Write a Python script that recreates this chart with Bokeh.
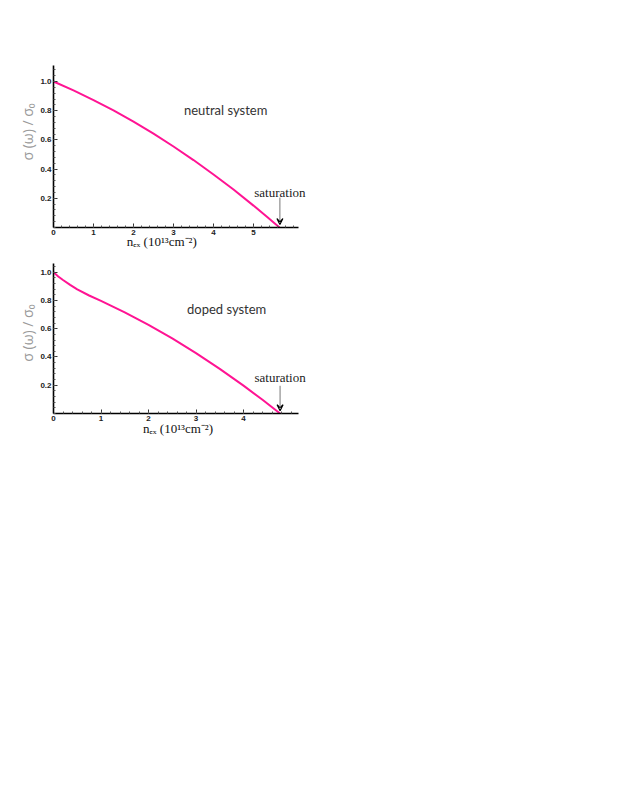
from bokeh.plotting import figure
from bokeh.layouts import column
from bokeh.models import FixedTicker, Label, Arrow, VeeHead, ColumnDataSource
from bokeh.embed import file_html
from bokeh.resources import INLINE

# ---- data ----
neutral_n = [0, 0.5, 1.0, 1.5, 2.0, 2.5, 3.0, 3.5, 4.0, 4.5, 5.0, 5.35, 5.65]
neutral_s = [1.0, 0.939, 0.873, 0.802, 0.725, 0.643, 0.555, 0.462, 0.363, 0.26, 0.15, 0.07, 0.0]

doped_n = [0, 0.1, 0.2, 0.35, 0.5, 0.75, 1.0, 1.5, 2.0, 2.5, 3.0, 3.5, 4.0, 4.4, 4.77]
doped_s = [1.0, 0.97, 0.945, 0.91, 0.878, 0.835, 0.797, 0.716, 0.627, 0.531, 0.427, 0.316, 0.197, 0.097, 0.0]

top_xticks = [0, 1, 2, 3, 4, 5]
bottom_xticks = [0, 1, 2, 3, 4]
yticks = [0.2, 0.4, 0.6, 0.8, 1.0]

neutral_sat = 5.66
doped_sat = 4.77

NB = "\u00a0"
x_label = "nₑₓ (10¹³cm⁻²)"
y_label = "σ (ω) / σ₀"
LINE = "#ff1493"


def make_panel(n, s, xticks, ppu, axis_len, y_end, fh, mbt, mbb, title, title_xy,
               sat_x, sat_label_y, arrow_y, xlab_standoff, xlab_pad, ylab_pad):
    fw = 262
    p = figure(frame_width=fw, frame_height=fh, x_range=(0, fw / ppu), y_range=(0, y_end),
               output_backend="svg", toolbar_location=None,
               min_border_left=53, min_border_right=5, min_border_top=mbt, min_border_bottom=mbb,
               outline_line_color=None, background_fill_color="white", border_fill_color="white")
    p.grid.visible = False
    src = ColumnDataSource(dict(n=n, s=s))
    p.line("n", "s", source=src, line_color=LINE, line_width=2)

    x_axis_end = axis_len / ppu
    minor_x = [i * 0.2 for i in range(int(x_axis_end / 0.2) + 1)]
    minor_y = [i * 0.04 for i in range(int(y_end / 0.04) + 1)]
    p.xaxis.ticker = FixedTicker(ticks=xticks, minor_ticks=minor_x)
    p.yaxis.ticker = FixedTicker(ticks=yticks, minor_ticks=minor_y)
    p.xaxis.bounds = (0, x_axis_end)
    for ax in (p.xaxis, p.yaxis):
        ax.axis_line_width = 1.6
        ax.axis_line_color = "black"
        ax.major_tick_in = 4
        ax.major_tick_out = 0
        ax.minor_tick_in = 2
        ax.minor_tick_out = 0
        ax.major_tick_line_color = "#333333"
        ax.minor_tick_line_color = "#555555"
        ax.major_label_text_font = "Liberation Sans"
        ax.major_label_text_font_size = "8px"
        ax.major_label_text_font_style = "bold"
        ax.major_label_text_color = "#222222"
        ax.major_label_standoff = 2
    p.yaxis.major_label_overrides = {0.2: "0.2", 0.4: "0.4", 0.6: "0.6", 0.8: "0.8", 1.0: "1.0"}

    p.xaxis.axis_label = x_label + NB * xlab_pad
    p.xaxis.axis_label_text_font = "Liberation Serif"
    p.xaxis.axis_label_text_font_style = "normal"
    p.xaxis.axis_label_text_font_size = "13px"
    p.xaxis.axis_label_text_color = "#111111"
    p.xaxis.axis_label_standoff = xlab_standoff

    p.yaxis.axis_label = NB * ylab_pad + y_label
    p.yaxis.axis_label_text_font = "Open Sans"
    p.yaxis.axis_label_text_font_style = "normal"
    p.yaxis.axis_label_text_font_size = "14px"
    p.yaxis.axis_label_text_color = "#9a9a9a"
    p.yaxis.axis_label_standoff = 0

    p.add_layout(Label(x=title_xy[0], y=title_xy[1], text=title, text_font="Lato",
                       text_font_size="13px", text_color="#333333", text_baseline="middle",
                       text_align="left"))
    p.add_layout(Label(x=sat_x, y=sat_label_y, text="saturation", text_font="Liberation Serif",
                       text_font_size="13px", text_color="#222222", text_baseline="middle",
                       text_align="center"))
    p.add_layout(Arrow(end=VeeHead(size=6, line_color="black", line_width=1.2, fill_color=None),
                       x_start=sat_x, y_start=arrow_y[0], x_end=sat_x, y_end=arrow_y[1],
                       line_color="#777777", line_width=1))
    return p


p1 = make_panel(neutral_n, neutral_s, top_xticks, 40.0, 245, 162 / 146.0, 162, 65, 30,
                "neutral system", (3.26, 0.806), neutral_sat, 0.24, (0.205, 0.02), -4, 14, 8)
p2 = make_panel(doped_n, doped_s, bottom_xticks, 47.5, 245, 150 / 141.3, 150, 6, 40,
                "doped system", (2.81, 0.742), doped_sat, 0.255, (0.196, 0.02), -3, 4, 3)

layout = column(p1, p2, spacing=0)
open("out.html", "w").write(file_html(layout, INLINE))
